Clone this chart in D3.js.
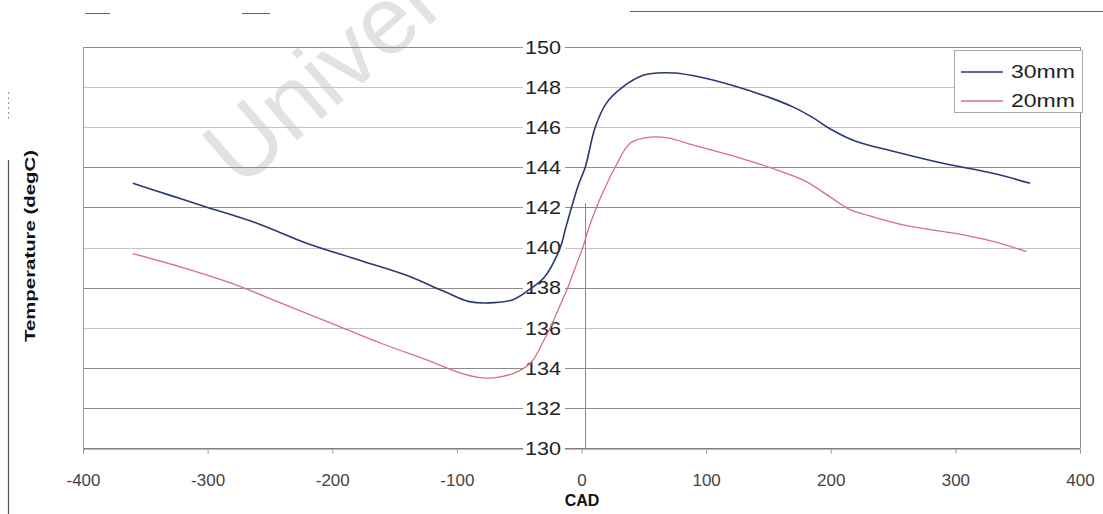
<!DOCTYPE html>
<html>
<head>
<meta charset="utf-8">
<script src="https://cdn.jsdelivr.net/npm/d3@7"></script>
<style>
  html, body { margin: 0; padding: 0; background: #fff; }
  svg { display: block; font-family: "Liberation Sans", Arial, sans-serif; }
</style>
</head>
<body>
<svg id="chart" width="1103" height="514"></svg>
<script>
// ---- data ----
const cad30 = [-360,-330,-300,-260,-220,-180,-140,-110,-90,-70,-55,-42,-30,-17,-13,-8,-2,3,11,20,33,50,60,75,95,120,150,170,185,200,220,250,290,330,360];
const temp30 = [143.2,142.6,142.0,141.2,140.2,139.4,138.6,137.8,137.3,137.25,137.4,137.9,138.5,140.0,140.9,142.0,143.2,144.0,146.0,147.2,148.0,148.6,148.7,148.7,148.5,148.1,147.5,147.0,146.5,145.9,145.3,144.8,144.2,143.7,143.2];
const cad20 = [-360,-320,-280,-240,-200,-160,-120,-100,-80,-65,-50,-40,-30,-25,-18,-11,-5,1,6,12,19,27,39,55,70,90,120,160,180,200,215,230,260,300,330,357];
const temp20 = [139.7,139.0,138.2,137.2,136.2,135.2,134.3,133.8,133.5,133.55,133.85,134.3,135.4,136.0,137.0,138.0,139.0,140.0,141.0,142.0,143.0,144.0,145.2,145.5,145.45,145.1,144.6,143.8,143.3,142.5,141.9,141.6,141.1,140.7,140.3,139.8];
const seriesNames = ["30mm", "20mm"];
const seriesColors = ["#2a3775", "#d8707c"];
const xTicks = [-400,-300,-200,-100,0,100,200,300,400];
const xTickLabels = ["-400","-300","-200","-100","0","100","200","300","400"];
const yTicks = [130,132,134,136,138,140,142,144,146,148,150];
const yTickLabels = ["130","132","134","136","138","140","142","144","146","148","150"];
const strongGrid = [150,144,142,138,134,132,130];

// ---- layout ----
const svg = d3.select("#chart");
const pL = 83, pR = 1080, pT = 47, pB = 448;
const x = d3.scaleLinear().domain([-400, 400]).range([pL, pR]);
const y = d3.scaleLinear().domain([130, 150]).range([pB, pT]);

// watermark
svg.append("text")
  .attr("transform", "translate(240,190) rotate(-41)")
  .attr("font-size", 96)
  .attr("fill", "#e2e2e2")
  .text("Univer");

// outer chart border remnants
svg.append("line").attr("x1", 630).attr("x2", 1103).attr("y1", 11.5).attr("y2", 11.5)
  .attr("stroke", "#666").attr("stroke-width", 1);
svg.append("line").attr("x1", 85).attr("x2", 110).attr("y1", 13.5).attr("y2", 13.5).attr("stroke", "#666");
svg.append("line").attr("x1", 242).attr("x2", 270).attr("y1", 13.5).attr("y2", 13.5).attr("stroke", "#666");
svg.append("line").attr("x1", 8.5).attr("x2", 8.5).attr("y1", 160).attr("y2", 514)
  .attr("stroke", "#555").attr("stroke-width", 1.2);
svg.append("line").attr("x1", 8.5).attr("x2", 8.5).attr("y1", 92).attr("y2", 122)
  .attr("stroke", "#999").attr("stroke-dasharray", "2,3");

// gridlines
svg.append("g").selectAll("line").data(yTicks).join("line")
  .attr("x1", pL).attr("x2", pR)
  .attr("y1", d => Math.round(y(d)) + 0.5).attr("y2", d => Math.round(y(d)) + 0.5)
  .attr("stroke", d => strongGrid.includes(d) ? "#8c8c8c" : "#c4c4c4")
  .attr("stroke-width", 1);

// plot border (left/right)
svg.append("line").attr("x1", pL + 0.5).attr("x2", pL + 0.5).attr("y1", pT).attr("y2", pB)
  .attr("stroke", "#9a9a9a");
svg.append("line").attr("x1", pR + 0.5).attr("x2", pR + 0.5).attr("y1", pT).attr("y2", pB)
  .attr("stroke", "#8c8c8c");

// x axis at bottom
const xAxis = d3.axisBottom(x).tickValues(xTicks).tickSize(5).tickFormat((d, i) => xTickLabels[i]);
const gx = svg.append("g").attr("transform", `translate(0,${pB + 0.5})`).call(xAxis);
gx.select(".domain").attr("stroke", "#777");
gx.selectAll(".tick line").attr("stroke", "#999");
gx.selectAll(".tick text")
  .attr("y", 25).attr("font-size", 17).attr("fill", "#444")
  .attr("font-family", "Liberation Sans, Arial, sans-serif");

// y axis line at x = 0 (visible lower part)
svg.append("line").attr("x1", Math.round(x(0)) + 3.5).attr("x2", Math.round(x(0)) + 3.5)
  .attr("y1", y(142) - 4).attr("y2", pB).attr("stroke", "#888");

// y tick labels with white backgrounds
const gy = svg.append("g");
gy.selectAll("rect").data(yTicks).join("rect")
  .attr("x", 523).attr("width", 42)
  .attr("y", d => y(d) - 8).attr("height", 16)
  .attr("fill", "#fff");
gy.selectAll("text").data(yTicks).join("text")
  .attr("x", 543).attr("y", d => y(d))
  .attr("dy", "0.36em").attr("text-anchor", "middle")
  .attr("font-size", 19).attr("fill", "#222")
  .attr("textLength", 36).attr("lengthAdjust", "spacingAndGlyphs")
  .text((d, i) => yTickLabels[i]);

// lines
const line = d3.line().x(d => x(d[0])).y(d => y(d[1])).curve(d3.curveCatmullRom);
const s30 = cad30.map((c, i) => [c, temp30[i]]);
const s20 = cad20.map((c, i) => [c, temp20[i]]);
svg.append("path").datum(s20).attr("d", line)
  .attr("fill", "none").attr("stroke", seriesColors[1]).attr("stroke-width", 1.3);
svg.append("path").datum(s30).attr("d", line)
  .attr("fill", "none").attr("stroke", seriesColors[0]).attr("stroke-width", 1.6);

// legend
const lg = svg.append("g");
lg.append("rect").attr("x", 954.5).attr("y", 50.5).attr("width", 128).attr("height", 62)
  .attr("fill", "#fff").attr("stroke", "#aaa");
seriesNames.forEach((name, i) => {
  const ly = 72 + i * 29;
  lg.append("line").attr("x1", 961).attr("x2", 1003).attr("y1", ly).attr("y2", ly)
    .attr("stroke", seriesColors[i]).attr("stroke-width", 1.4);
  lg.append("text").attr("x", 1011).attr("y", ly).attr("dy", "0.36em")
    .attr("font-size", 18).attr("fill", "#222")
    .attr("textLength", 64).attr("lengthAdjust", "spacingAndGlyphs")
    .text(name);
});

// axis titles
svg.append("text").attr("x", 582).attr("y", 500).attr("dy", "0.36em")
  .attr("text-anchor", "middle").attr("font-size", 16).attr("font-weight", "bold")
  .attr("fill", "#111").text("CAD");
svg.append("text").attr("transform", "translate(30,246) rotate(-90)")
  .attr("text-anchor", "middle").attr("dy", "0.36em")
  .attr("font-size", 14).attr("font-weight", "bold").attr("fill", "#111")
  .attr("textLength", 192).attr("lengthAdjust", "spacingAndGlyphs")
  .text("Temperature (degC)");
</script>
</body>
</html>
